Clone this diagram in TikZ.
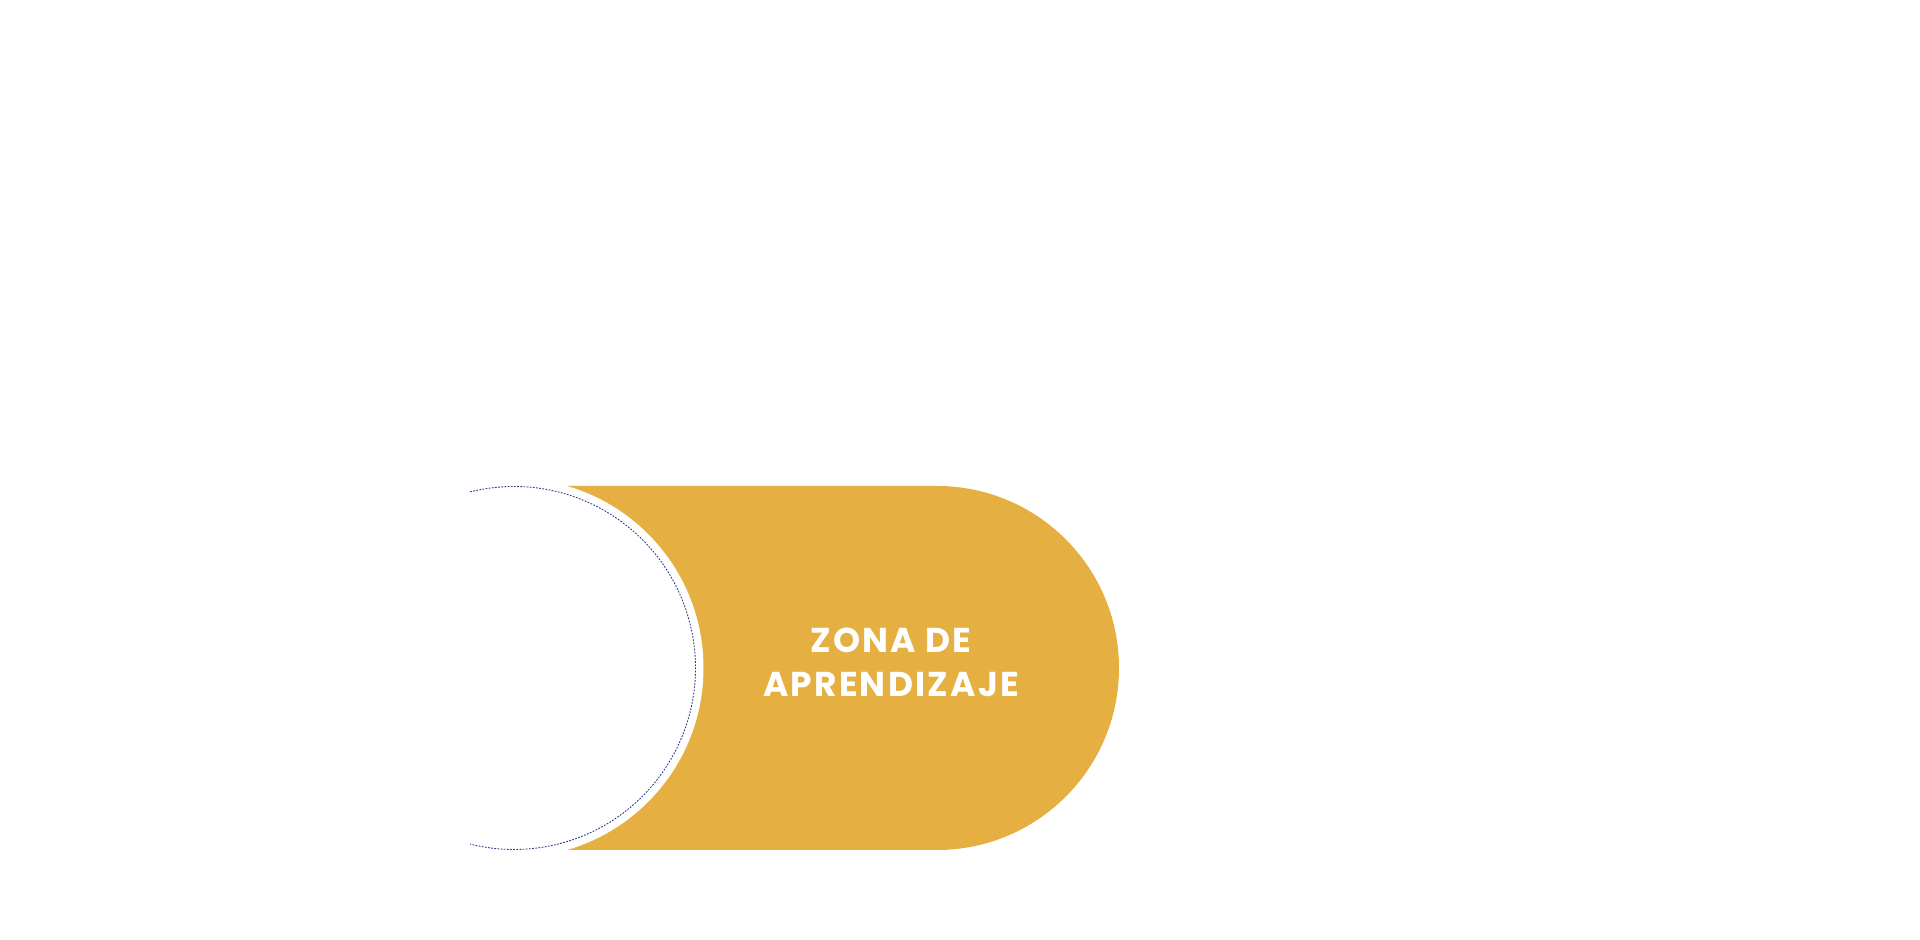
\documentclass[tikz,border=0pt]{standalone}
\usepackage{fontspec}
\setmainfont{Poppins}
\newfontfamily\zonafont[LetterSpace=6.5]{Poppins Bold}
\definecolor{gold}{RGB}{229,175,66}
\definecolor{navy}{RGB}{46,58,135}
\begin{document}
\begin{tikzpicture}[x=0.1mm,y=0.1mm,
  zonatext/.style={text=white,font=\zonafont\fontsize{9.8}{12.5}\selectfont,align=center,inner sep=0pt}]
\useasboundingbox (0,0) rectangle (1920,940);
\fill[white] (0,0) rectangle (1920,940);
% golden capsule
\fill[gold] (514,454) -- (937,454) arc[start angle=90,end angle=-90,radius=18.2mm] -- (514,90) -- cycle;
% white disc cutting into it
\coordinate (c) at (514,272);
\fill[white] (c) circle[radius=18.95mm];
% dotted navy arc
\draw[navy,line width=0.25pt,dash pattern=on 0.5pt off 0.4pt] (c) ++(104:18.15mm) arc[start angle=104,end angle=-104,radius=18.15mm];
\node[zonatext] (label) at (891,278) {ZONA DE\\APRENDIZAJE};
\end{tikzpicture}
\end{document}
